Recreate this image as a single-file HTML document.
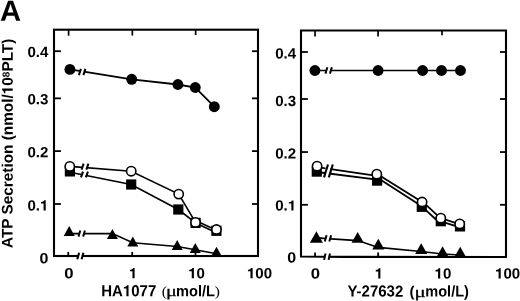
<!DOCTYPE html>
<html><head><meta charset="utf-8"><title>A</title>
<style>
html,body{margin:0;padding:0;background:#fff;}
body{width:520px;height:301px;overflow:hidden;font-family:"Liberation Sans",sans-serif;}
svg{display:block;filter:grayscale(1)}
text{font-family:"Liberation Sans",sans-serif;font-weight:bold;fill:#000}
.sym{font-family:"Liberation Serif",serif;font-weight:normal}
.h{fill-opacity:0}
</style></head><body>
<svg width="520" height="301" viewBox="0 0 520 301">
<rect width="520" height="301" fill="#fff"/>

<text transform="translate(-0.1 20.8) rotate(0.03)" font-size="29.2">A</text>
<rect x="54.0" y="29.7" width="204.0" height="226.3" fill="none" stroke="#000" stroke-width="2.1"/>
<line x1="54.0" y1="51.2" x2="60.9" y2="51.2" stroke="#000" stroke-width="1.8"/>
<line x1="258.0" y1="51.2" x2="252.0" y2="51.2" stroke="#000" stroke-width="1.8"/>
<line x1="54.0" y1="98.35" x2="60.9" y2="98.35" stroke="#000" stroke-width="1.8"/>
<line x1="258.0" y1="98.35" x2="252.0" y2="98.35" stroke="#000" stroke-width="1.8"/>
<line x1="54.0" y1="151.1" x2="60.9" y2="151.1" stroke="#000" stroke-width="1.8"/>
<line x1="258.0" y1="151.1" x2="252.0" y2="151.1" stroke="#000" stroke-width="1.8"/>
<line x1="54.0" y1="204.0" x2="60.9" y2="204.0" stroke="#000" stroke-width="1.8"/>
<line x1="258.0" y1="204.0" x2="252.0" y2="204.0" stroke="#000" stroke-width="1.8"/>
<line x1="68.6" y1="29.7" x2="68.6" y2="35.7" stroke="#000" stroke-width="1.7"/>
<line x1="132.35" y1="29.7" x2="132.35" y2="35.6" stroke="#000" stroke-width="1.7"/>
<line x1="195.65" y1="29.7" x2="195.65" y2="35.0" stroke="#000" stroke-width="1.7"/>
<line x1="68.25" y1="256.0" x2="68.25" y2="251.9" stroke="#000" stroke-width="1.8"/>
<line x1="132.2" y1="256.0" x2="132.2" y2="251.9" stroke="#000" stroke-width="1.8"/>
<line x1="195.5" y1="256.0" x2="195.5" y2="251.9" stroke="#000" stroke-width="1.8"/>
<rect x="78.6" y="254.0" width="3.5" height="4" fill="#fff"/>
<line x1="77.3" y1="259.2" x2="79.10000000000001" y2="252.8" stroke="#000" stroke-width="2.1"/>
<line x1="81.6" y1="259.2" x2="83.4" y2="252.8" stroke="#000" stroke-width="2.1"/>
<text transform="translate(27.41 57.0) scale(1.02 1.0) rotate(0.03)" font-size="14.8">0.4</text>
<text transform="translate(27.41 104.3) scale(1.02 1.0) rotate(0.03)" font-size="14.8">0.3</text>
<text transform="translate(27.41 157.3) scale(1.02 1.0) rotate(0.03)" font-size="14.8">0.2</text>
<text transform="translate(27.41 210.5) scale(1.02 1.0) rotate(0.03)" font-size="14.8">0.<tspan class="h">1</tspan></text><path transform="translate(40.00 210.5) scale(0.01510 -0.01436)" d="M236 0H378V710H268C256 640 196 592 69 586V492H236Z"/>
<text transform="translate(39.51 263.3) scale(1.08 1.0) rotate(0.03)" font-size="14.8">0</text>
<text transform="translate(64.15 278.3) scale(1.13 1.0) rotate(0.03)" font-size="14.8">0</text>
<text transform="translate(128.90 278.3) scale(1.02 1.0) rotate(0.03)" font-size="14.8"><tspan class="h">1</tspan></text><path transform="translate(128.90 278.3) scale(0.01510 -0.01436)" d="M236 0H378V710H268C256 640 196 592 69 586V492H236Z"/>
<text transform="translate(188.20 278.3) scale(1.02 1.0) rotate(0.03)" font-size="14.8"><tspan class="h">1</tspan>0</text><path transform="translate(188.20 278.3) scale(0.01510 -0.01436)" d="M236 0H378V710H268C256 640 196 592 69 586V492H236Z"/>
<text transform="translate(246.91 278.3) scale(1.02 1.0) rotate(0.03)" font-size="14.8"><tspan class="h">1</tspan>00</text><path transform="translate(246.91 278.3) scale(0.01510 -0.01436)" d="M236 0H378V710H268C256 640 196 592 69 586V492H236Z"/>
<polyline points="69.9,69.4 131.7,79.3 177.9,84.5 195.3,87.5 214.3,106.7" fill="none" stroke="#000" stroke-width="1.8"/>
<rect x="80.20" y="69.60" width="3.90" height="3.4" fill="#fff"/><line x1="78.90" y1="75.1" x2="80.90" y2="68.9" stroke="#000" stroke-width="2.0"/><line x1="83.40" y1="75.1" x2="85.40" y2="68.9" stroke="#000" stroke-width="2.0"/>
<circle cx="69.9" cy="69.4" r="5.45" fill="#000"/>
<circle cx="131.7" cy="79.3" r="5.45" fill="#000"/>
<circle cx="177.9" cy="84.5" r="5.45" fill="#000"/>
<circle cx="195.3" cy="87.5" r="5.45" fill="#000"/>
<circle cx="214.3" cy="106.7" r="5.45" fill="#000"/>
<polyline points="69.9,172.3 131.2,184.5 178.3,209.5 195.6,222.9" fill="none" stroke="#000" stroke-width="1.6"/>
<polyline points="195.6,223.1 216.4,232.7" fill="none" stroke="#000" stroke-width="1.6"/>
<rect x="82.30" y="172.90" width="4.30" height="3.4" fill="#fff"/><line x1="80.95" y1="177.4" x2="83.05" y2="171.6" stroke="#000" stroke-width="2.0"/><line x1="85.85" y1="177.4" x2="87.95" y2="171.6" stroke="#000" stroke-width="2.0"/>
<rect x="64.80" y="166.30" width="10.2" height="10.2" fill="#000"/>
<rect x="126.10" y="179.40" width="10.2" height="10.2" fill="#000"/>
<rect x="173.20" y="204.40" width="10.2" height="10.2" fill="#000"/>
<rect x="190.50" y="217.80" width="10.2" height="10.2" fill="#000"/>
<rect x="211.30" y="225.70" width="10.2" height="10.2" fill="#000"/>
<polyline points="69.8,166.4 131.2,171.2 178.7,194.1 195.5,222.4" fill="none" stroke="#000" stroke-width="1.6"/>
<polyline points="195.5,220.6 216.45,230.3" fill="none" stroke="#000" stroke-width="1.6"/>
<rect x="82.90" y="165.80" width="4.20" height="3.4" fill="#fff"/><line x1="81.55" y1="169.7" x2="83.65" y2="163.6" stroke="#000" stroke-width="2.0"/><line x1="86.35" y1="169.7" x2="88.45" y2="163.6" stroke="#000" stroke-width="2.0"/>
<circle cx="69.8" cy="166.4" r="4.65" fill="#fff" stroke="#000" stroke-width="1.6"/>
<circle cx="131.2" cy="171.2" r="4.65" fill="#fff" stroke="#000" stroke-width="1.6"/>
<circle cx="178.7" cy="194.1" r="4.65" fill="#fff" stroke="#000" stroke-width="1.6"/>
<circle cx="195.5" cy="222.4" r="4.65" fill="#fff" stroke="#000" stroke-width="1.6"/>
<circle cx="216.45" cy="229.5" r="4.65" fill="#fff" stroke="#000" stroke-width="1.6"/>
<polyline points="69.2,233.6 112.4,233.6 132.8,242.7 177.2,246.5 195.3,249.8 216.5,253.7" fill="none" stroke="#000" stroke-width="1.6"/>
<rect x="79.70" y="232.00" width="4.00" height="3.4" fill="#fff"/><line x1="78.50" y1="236.6" x2="80.30" y2="230.5" stroke="#000" stroke-width="2.0"/><line x1="83.10" y1="236.6" x2="84.90" y2="230.5" stroke="#000" stroke-width="2.0"/>
<path d="M69.2 225.9 L74.70 235.90 L63.70 235.90 Z" fill="#000"/>
<path d="M112.4 228.9 L117.90 238.90 L106.90 238.90 Z" fill="#000"/>
<path d="M132.8 236.5 L138.30 246.50 L127.30 246.50 Z" fill="#000"/>
<path d="M177.2 240.0 L182.70 250.00 L171.70 250.00 Z" fill="#000"/>
<path d="M195.3 242.9 L200.80 252.90 L189.80 252.90 Z" fill="#000"/>
<path d="M216.5 246.7 L222.00 256.70 L211.00 256.70 Z" fill="#000"/>
<text transform="translate(101.20 296.2) scale(0.9375 1.0) rotate(0.03)" font-size="16">HA<tspan class="h">1</tspan>077</text><path transform="translate(122.87 296.2) scale(0.01500 -0.01552)" d="M236 0H378V710H268C256 640 196 592 69 586V492H236Z"/>
<text class="sym" transform="translate(161.8 296.1) scale(1.0 0.9) rotate(0.03)" font-size="15.5">(</text>
<text class="sym" stroke="#000" stroke-width="0.3" transform="translate(166.0 296.1) scale(1.3 1.0) rotate(0.03)" font-size="15.5">μ</text>
<text transform="translate(176.0 296.2) scale(0.943 1.0) rotate(0.03)" font-size="15.5">mol/L</text>
<text class="sym" transform="translate(214.7 296.1) scale(1.0 0.9) rotate(0.03)" font-size="15.5">)</text>
<g transform="translate(12.6 248.0) rotate(-89.97)"><text x="0" y="0" font-size="15.35">ATP Secretion (nmol/<tspan class="h">1</tspan>0<tspan font-size="10" dy="-3.3">8</tspan><tspan dy="3.3">PLT)</tspan></text><path transform="translate(153.73 0) scale(0.01535 -0.01489)" d="M236 0H378V710H268C256 640 196 592 69 586V492H236Z"/></g>
<path d="M301.0 256.45 L301.0 30.45 L506.0 30.45 L506.0 257.0 L345 256.88 Z" fill="none" stroke="#000" stroke-width="2.1" stroke-linejoin="miter"/>
<line x1="301.0" y1="52.0" x2="307.9" y2="52.0" stroke="#000" stroke-width="1.8"/>
<line x1="506.0" y1="52.0" x2="500.0" y2="52.0" stroke="#000" stroke-width="1.8"/>
<line x1="301.0" y1="99.0" x2="307.9" y2="99.0" stroke="#000" stroke-width="1.8"/>
<line x1="506.0" y1="99.0" x2="500.0" y2="99.0" stroke="#000" stroke-width="1.8"/>
<line x1="301.0" y1="152.05" x2="307.9" y2="152.05" stroke="#000" stroke-width="1.8"/>
<line x1="506.0" y1="152.05" x2="500.0" y2="152.05" stroke="#000" stroke-width="1.8"/>
<line x1="301.0" y1="204.8" x2="307.9" y2="204.8" stroke="#000" stroke-width="1.8"/>
<line x1="506.0" y1="204.8" x2="500.0" y2="204.8" stroke="#000" stroke-width="1.8"/>
<line x1="315.05" y1="30.45" x2="315.05" y2="36.45" stroke="#000" stroke-width="1.7"/>
<line x1="378.05" y1="30.45" x2="378.05" y2="36.45" stroke="#000" stroke-width="1.7"/>
<line x1="442.0" y1="30.45" x2="442.0" y2="35.35" stroke="#000" stroke-width="1.7"/>
<line x1="315.05" y1="257.0" x2="315.05" y2="252.4" stroke="#000" stroke-width="1.8"/>
<line x1="378.15" y1="257.0" x2="378.15" y2="252.4" stroke="#000" stroke-width="1.8"/>
<line x1="442.0" y1="257.0" x2="442.0" y2="252.4" stroke="#000" stroke-width="1.8"/>
<rect x="325.2" y="254.5" width="3.6" height="4" fill="#fff"/>
<line x1="324.1" y1="259.9" x2="325.5" y2="253.5" stroke="#000" stroke-width="2.0"/>
<line x1="328.6" y1="259.9" x2="330.0" y2="253.5" stroke="#000" stroke-width="2.0"/>
<text transform="translate(275.21 58.5) scale(1.02 1.0) rotate(0.03)" font-size="14.8">0.4</text>
<text transform="translate(275.21 106.1) scale(1.02 1.0) rotate(0.03)" font-size="14.8">0.3</text>
<text transform="translate(275.21 158.4) scale(1.02 1.0) rotate(0.03)" font-size="14.8">0.2</text>
<text transform="translate(275.21 210.6) scale(1.02 1.0) rotate(0.03)" font-size="14.8">0.<tspan class="h">1</tspan></text><path transform="translate(287.80 210.6) scale(0.01510 -0.01436)" d="M236 0H378V710H268C256 640 196 592 69 586V492H236Z"/>
<text transform="translate(287.31 262.4) scale(1.08 1.0) rotate(0.03)" font-size="14.8">0</text>
<text transform="translate(310.65 278.5) scale(1.13 1.0) rotate(0.03)" font-size="14.8">0</text>
<text transform="translate(374.70 278.5) scale(1.02 1.0) rotate(0.03)" font-size="14.8"><tspan class="h">1</tspan></text><path transform="translate(374.70 278.5) scale(0.01510 -0.01436)" d="M236 0H378V710H268C256 640 196 592 69 586V492H236Z"/>
<text transform="translate(434.50 278.5) scale(1.02 1.0) rotate(0.03)" font-size="14.8"><tspan class="h">1</tspan>0</text><path transform="translate(434.50 278.5) scale(0.01510 -0.01436)" d="M236 0H378V710H268C256 640 196 592 69 586V492H236Z"/>
<text transform="translate(495.01 278.5) scale(1.02 1.0) rotate(0.03)" font-size="14.8"><tspan class="h">1</tspan>00</text><path transform="translate(495.01 278.5) scale(0.01510 -0.01436)" d="M236 0H378V710H268C256 640 196 592 69 586V492H236Z"/>
<polyline points="314.9,70.5 378.1,70.5 422.6,70.5 441.5,70.5 460.5,70.5" fill="none" stroke="#000" stroke-width="1.4"/>
<rect x="326.70" y="68.90" width="3.90" height="3.4" fill="#fff"/><line x1="325.45" y1="73.6" x2="327.35" y2="67.3" stroke="#000" stroke-width="2.0"/><line x1="329.95" y1="73.6" x2="331.85" y2="67.3" stroke="#000" stroke-width="2.0"/>
<circle cx="314.9" cy="70.5" r="5.45" fill="#000"/>
<circle cx="378.1" cy="70.5" r="5.45" fill="#000"/>
<circle cx="422.6" cy="70.5" r="5.45" fill="#000"/>
<circle cx="441.5" cy="70.5" r="5.45" fill="#000"/>
<circle cx="460.5" cy="70.5" r="5.45" fill="#000"/>
<polyline points="316.8,172.0 377.1,179.6" fill="none" stroke="#000" stroke-width="1.8"/>
<polyline points="377.1,177.6 421.8,206.2" fill="none" stroke="#000" stroke-width="1.8"/>
<polyline points="421.8,206.3 440.8,224.0" fill="none" stroke="#000" stroke-width="1.8"/>
<polyline points="440.8,221.3 460.0,227.3" fill="none" stroke="#000" stroke-width="1.8"/>
<polyline points="317.1,167.1 376.8,175.8" fill="none" stroke="#000" stroke-width="1.8"/>
<polyline points="376.8,173.8 422.1,202.0" fill="none" stroke="#000" stroke-width="1.8"/>
<polyline points="422.1,201.1 440.8,218.7" fill="none" stroke="#000" stroke-width="1.8"/>
<polyline points="440.8,218.0 459.7,224.4" fill="none" stroke="#000" stroke-width="1.8"/>
<path d="M325.6 165.6 L330.6 165.0 L329.6 178.6 L324.8 177.4 Z" fill="#fff"/>
<line x1="324.0" y1="177.4" x2="328.0" y2="164.5" stroke="#000" stroke-width="2.1"/>
<line x1="328.8" y1="177.4" x2="332.8" y2="164.5" stroke="#000" stroke-width="2.1"/>
<rect x="311.70" y="166.50" width="10.2" height="10.2" fill="#000"/>
<rect x="372.00" y="175.50" width="10.2" height="10.2" fill="#000"/>
<rect x="416.70" y="201.70" width="10.2" height="10.2" fill="#000"/>
<rect x="435.70" y="216.10" width="10.2" height="10.2" fill="#000"/>
<rect x="454.90" y="221.30" width="10.2" height="10.2" fill="#000"/>
<circle cx="317.1" cy="166.2" r="4.65" fill="#fff" stroke="#000" stroke-width="1.6"/>
<circle cx="376.8" cy="174.2" r="4.65" fill="#fff" stroke="#000" stroke-width="1.6"/>
<circle cx="422.1" cy="202.0" r="4.65" fill="#fff" stroke="#000" stroke-width="1.6"/>
<circle cx="440.8" cy="218.2" r="4.65" fill="#fff" stroke="#000" stroke-width="1.6"/>
<circle cx="459.7" cy="223.9" r="4.65" fill="#fff" stroke="#000" stroke-width="1.6"/>
<polyline points="316.4,237.9 357.7,240.6 378.3,247.4 421.2,251.5 442.6,254.0 460.2,255.0" fill="none" stroke="#000" stroke-width="1.6"/>
<rect x="326.00" y="236.80" width="3.90" height="3.4" fill="#fff"/><line x1="324.80" y1="241.5" x2="326.60" y2="235.2" stroke="#000" stroke-width="2.0"/><line x1="329.30" y1="241.5" x2="331.10" y2="235.2" stroke="#000" stroke-width="2.0"/>
<path d="M316.4 231.2 L322.90 242.70 L309.90 242.70 Z" fill="#000"/>
<path d="M357.7 231.9 L363.80 242.70 L351.60 242.70 Z" fill="#000"/>
<path d="M378.3 238.7 L384.40 249.50 L372.20 249.50 Z" fill="#000"/>
<path d="M421.2 243.3 L427.30 254.10 L415.10 254.10 Z" fill="#000"/>
<path d="M442.6 246.3 L448.70 257.10 L436.50 257.10 Z" fill="#000"/>
<path d="M460.2 246.7 L466.30 257.50 L454.10 257.50 Z" fill="#000"/>
<text transform="translate(347.4 296.6) scale(0.9375 1.0) rotate(0.03)" font-size="16">Y-27632</text>
<text transform="translate(409.4 296.5) scale(1.0 1.0) rotate(0.03)" font-size="15">(</text>
<text class="sym" stroke="#000" stroke-width="0.3" transform="translate(414.4 296.5) scale(1.35 1.0) rotate(0.03)" font-size="15.5">μ</text>
<text transform="translate(425.3 296.6) scale(0.939 1.0) rotate(0.03)" font-size="15.5">mol/L)</text>
</svg></body></html>
